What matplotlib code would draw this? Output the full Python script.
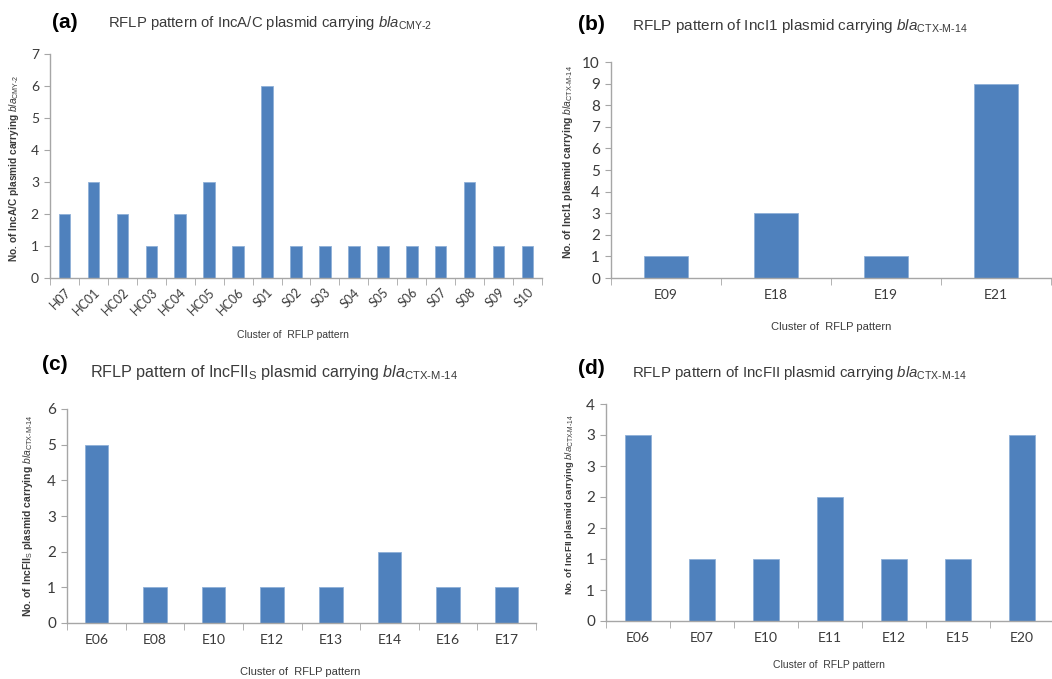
import matplotlib
matplotlib.use("Agg")
import matplotlib.pyplot as plt
import numpy as np

# panel (a) IncA/C carrying blaCMY-2
clusters_a = ["H07", "HC01", "HC02", "HC03", "HC04", "HC05", "HC06", "S01", "S02",
              "S03", "S04", "S05", "S06", "S07", "S08", "S09", "S10"]
counts_a = [2, 3, 2, 1, 2, 3, 1, 6, 1, 1, 1, 1, 1, 1, 3, 1, 1]

# panel (b) IncI1 carrying blaCTX-M-14
clusters_b = ["E09", "E18", "E19", "E21"]
counts_b = [1, 3, 1, 9]

# panel (c) IncFII_S carrying blaCTX-M-14
clusters_c = ["E06", "E08", "E10", "E12", "E13", "E14", "E16", "E17"]
counts_c = [5, 1, 1, 1, 1, 2, 1, 1]

# panel (d) IncFII carrying blaCTX-M-14
clusters_d = ["E06", "E07", "E10", "E11", "E12", "E15", "E20"]
counts_d = [3, 1, 1, 2, 1, 1, 3]

plt.rcParams["font.family"] = ["Liberation Sans", "DejaVu Sans"]
plt.rcParams["mathtext.fontset"] = "custom"
plt.rcParams["mathtext.rm"] = "Liberation Sans"
plt.rcParams["mathtext.it"] = "Liberation Sans:italic"
plt.rcParams["mathtext.bf"] = "Liberation Sans:bold"

BAR = "#4F81BD"
AXIS = "#A6A6A6"
TXT = "#3a3a3a"

fig = plt.figure(figsize=(10.52, 6.79), dpi=100)


def px(x0, y0, x1, y1):
    # pixel box -> figure fraction rect
    W, H = 1052, 679
    return [x0 / W, 1 - y1 / H, (x1 - x0) / W, (y1 - y0) / H]


def draw_panel(rect, cats, vals, ymax, ystep, rot=0, tick_fs=10, ylab_fmt=None):
    ax = fig.add_axes(rect)
    x = np.arange(len(cats))
    ax.bar(x, vals, width=0.4, color=BAR, edgecolor="#8fb0d8", linewidth=0.6)
    ax.set_xlim(-0.5, len(cats) - 0.5)
    ax.set_ylim(0, ymax)
    for s in ["top", "right"]:
        ax.spines[s].set_visible(False)
    for s in ["left", "bottom"]:
        ax.spines[s].set_color(AXIS)
        ax.spines[s].set_linewidth(1.0)
    ax.set_xticks(x)
    ax.set_xticklabels(cats, rotation=rot, ha="right" if rot else "center",
                       rotation_mode="anchor" if rot else "default",
                       fontfamily="Lato", fontsize=tick_fs, color=TXT)
    ax.set_xticks(np.arange(len(cats) + 1) - 0.5, minor=True)
    ax.tick_params(axis="x", which="major", length=0, pad=8 if not rot else 6)
    ax.tick_params(axis="x", which="minor", length=5, color=AXIS, direction="out")
    yt = np.arange(0, ymax + ystep / 2, ystep)
    ax.set_yticks(yt)
    if ylab_fmt is None:
        ax.set_yticklabels([f"{v:g}" for v in yt])
    else:
        ax.set_yticklabels([ylab_fmt(v) for v in yt])
    ax.tick_params(axis="y", length=4, color=AXIS, labelsize=tick_fs + 1,
                   labelcolor=TXT, pad=4)
    for lab in ax.get_yticklabels():
        lab.set_fontfamily("Lato")
    return ax


# (a)
ax_a = draw_panel(px(50, 54, 542, 278), clusters_a, counts_a, 7, 1, rot=45, tick_fs=9)
fig.text(52 / 1052, 1 - 23 / 679, "(a)", fontsize=15, fontweight="bold", va="center")
fig.text(108 / 1052, 1 - 23 / 679,
         r"RFLP pattern of IncA/C plasmid carrying $\mathit{bla}_{\text{CMY-2}}$",
         fontsize=10.7, color=TXT, va="center")
fig.text(293 / 1052, 1 - 335 / 679, "Cluster of  RFLP pattern", fontsize=7.5,
         color=TXT, ha="center", va="center")
fig.text(14 / 1052, 1 - 168 / 679,
         r"No. of IncA/C plasmid carrying $\mathit{bla}_{\text{CMY-2}}$",
         fontsize=7.3, fontweight="bold", rotation=90, ha="center", va="center", color=TXT)

# (b)
ax_b = draw_panel(px(611, 62, 1051, 278), clusters_b, counts_b, 10, 1, tick_fs=10)
fig.text(578 / 1052, 1 - 25 / 679, "(b)", fontsize=15, fontweight="bold", va="center")
fig.text(632 / 1052, 1 - 26 / 679,
         r"RFLP pattern of IncI1 plasmid carrying $\mathit{bla}_{\text{CTX-M-14}}$",
         fontsize=11, color=TXT, va="center")
fig.text(831 / 1052, 1 - 327 / 679, "Cluster of  RFLP pattern", fontsize=8,
         color=TXT, ha="center", va="center")
fig.text(568 / 1052, 1 - 162 / 679,
         r"No. of IncI1 plasmid carrying $\mathit{bla}_{\text{CTX-M-14}}$",
         fontsize=7.5, fontweight="bold", rotation=90, ha="center", va="center", color=TXT)

# (c)
ax_c = draw_panel(px(67, 409, 536, 623), clusters_c, counts_c, 6, 1, tick_fs=10)
fig.text(42 / 1052, 1 - 364 / 679, "(c)", fontsize=15, fontweight="bold", va="center")
fig.text(90 / 1052, 1 - 372 / 679,
         r"RFLP pattern of IncFII$_{\mathrm{S}}$ plasmid carrying $\mathit{bla}_{\text{CTX-M-14}}$",
         fontsize=11.6, color=TXT, va="center")
fig.text(300 / 1052, 1 - 672 / 679, "Cluster of  RFLP pattern", fontsize=8,
         color=TXT, ha="center", va="center")
fig.text(28 / 1052, 1 - 516 / 679,
         r"No. of IncFII$_{\mathrm{S}}$ plasmid carrying $\mathit{bla}_{\text{CTX-M-14}}$",
         fontsize=7.5, fontweight="bold", rotation=90, ha="center", va="center", color=TXT)

# (d) axis labels rounded half-up like the original
ax_d = draw_panel(px(606, 404, 1054, 621), clusters_d, counts_d, 3.5, 0.5, tick_fs=10,
                  ylab_fmt=lambda v: f"{int(np.floor(v + 0.5))}")
fig.text(578 / 1052, 1 - 369 / 679, "(d)", fontsize=15, fontweight="bold", va="center")
fig.text(632 / 1052, 1 - 373 / 679,
         r"RFLP pattern of IncFII plasmid carrying $\mathit{bla}_{\text{CTX-M-14}}$",
         fontsize=10.8, color=TXT, va="center")
fig.text(829 / 1052, 1 - 665 / 679, "Cluster of  RFLP pattern", fontsize=7.5,
         color=TXT, ha="center", va="center")
fig.text(569 / 1052, 1 - 505 / 679,
         r"No. of IncFII plasmid carrying $\mathit{bla}_{\text{CTX-M-14}}$",
         fontsize=6.8, fontweight="bold", rotation=90, ha="center", va="center", color=TXT)

fig.savefig("out.png", dpi=100)
